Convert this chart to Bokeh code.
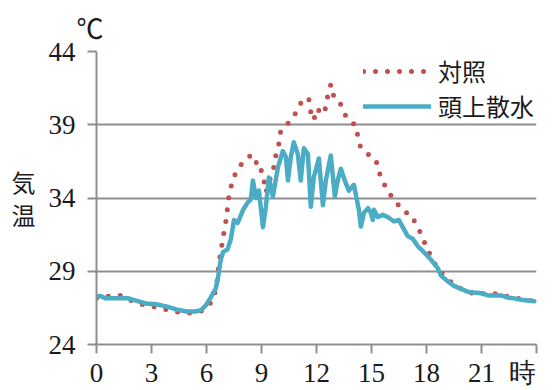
from bokeh.plotting import figure
from bokeh.models import Range1d, FixedTicker
from bokeh.embed import file_html
from bokeh.resources import INLINE

# ---- data ----
x_ticks = [0, 3, 6, 9, 12, 15, 18, 21, 24]
y_ticks = [24, 29, 34, 39, 44]

control_label = "対照"
control_hours = [0, 0.67, 1.33, 1.98, 2.58, 3.24, 3.89, 4.49, 5.14, 5.8, 6.35, 6.51, 6.62, 6.67,
                 6.78, 6.89, 7.0, 7.11, 7.16, 7.27, 7.44, 7.71, 8.09, 8.47, 8.64, 8.8, 8.96, 9.13,
                 9.24, 9.67, 9.78, 9.95, 10.05, 10.33, 10.66, 10.98, 11.25, 11.58, 11.69, 11.85,
                 12.02, 12.35, 12.51, 12.62, 12.78, 12.95, 13.22, 13.49, 13.65, 13.93, 14.2, 14.26,
                 14.42, 14.75, 15.24, 15.4, 15.62, 15.95, 16.38, 16.76, 17.15, 17.47, 17.75, 17.97,
                 18.29, 18.62, 19.06, 19.6, 20.2, 20.8, 21.45, 22.16, 22.77, 23.42, 23.9]
control_temp = [27.15, 27.3, 27.35, 26.95, 26.7, 26.55, 26.35, 26.2, 26.15, 26.3, 27.0, 27.8, 28.7, 29.5,
                30.3, 31.2, 32.0, 32.8, 33.65, 34.4, 35.3, 36.0, 36.6, 36.95, 36.8, 35.95, 36.0, 35.2,
                34.4, 36.1, 36.9, 37.7, 38.6, 38.9, 39.45, 40.0, 40.8, 40.75, 39.85, 39.3,
                40.1, 39.7, 40.2, 41.05, 41.75, 40.9, 40.65, 39.9, 39.45, 39.2, 38.85, 37.95,
                37.45, 37.05, 36.6, 35.8, 35.1, 34.35, 33.65, 33.05, 32.9, 32.1, 31.45, 30.7,
                29.9, 29.15, 28.55, 28.0, 27.6, 27.4, 27.55, 27.35, 27.2, 27.05, 26.95]

sprinkler_label = "頭上散水"
sprinkler_hours = [0, 0.25, 0.5, 1.75, 2.15, 2.7, 3.25, 3.8, 4.35, 4.9, 5.4, 5.7, 5.95, 6.2, 6.5, 6.62,
                   6.78, 6.9, 7.15, 7.33, 7.5, 7.7, 8.0, 8.25, 8.42, 8.53, 8.7, 8.86, 9.08, 9.24, 9.4,
                   9.62, 9.9, 10.16, 10.33, 10.44, 10.6, 10.76, 10.98, 11.14, 11.31, 11.53, 11.69,
                   11.85, 12.13, 12.35, 12.51, 12.78, 13.0, 13.16, 13.33, 13.54, 13.76, 14.04, 14.31,
                   14.42, 14.59, 14.81, 14.96, 15.07, 15.13, 15.35, 15.62, 15.95, 16.22, 16.49, 16.71,
                   16.98, 17.26, 17.53, 17.86, 18.24, 18.62, 18.79, 19.17, 19.5, 19.88, 20.26, 20.59,
                   20.97, 21.35, 22.06, 22.44, 22.77, 23.15, 23.53, 23.9]
sprinkler_temp = [27.3, 27.3, 27.15, 27.15, 27.0, 26.8, 26.75, 26.6, 26.4, 26.25, 26.25, 26.35, 26.65,
                  27.15, 27.8, 28.5, 29.8, 30.3, 30.5, 31.2, 32.5, 32.3, 33.2, 33.7, 33.9, 35.2, 34.0,
                  34.5, 32.0, 33.4, 35.4, 34.1, 36.1, 37.2, 36.8, 35.2, 36.8, 37.8, 37.0, 35.2, 37.4,
                  37.0, 33.4, 35.4, 36.7, 33.5, 35.2, 36.9, 34.1, 35.2, 36.0, 35.2, 34.5, 34.9, 33.2,
                  32.05, 33.0, 33.3, 33.0, 32.5, 33.2, 32.7, 32.85, 32.65, 32.4, 32.5, 32.0, 31.4,
                  31.2, 30.7, 30.3, 29.8, 29.2, 28.7, 28.3, 28.0, 27.8, 27.6, 27.55, 27.5, 27.35,
                  27.35, 27.2, 27.15, 27.05, 27.0, 26.95]

unit_text = "℃"
ylabel_text = "気\n温"
xunit_text = "時"

RED = "#c0504d"
BLUE = "#4bacc6"
GRID = "#8e8e8e"
INK = "#1a1a1a"
SERIF = "Liberation Serif"
JP = "Noto Sans CJK JP"

p = figure(width=556, height=390, output_backend="svg", toolbar_location=None,
           x_range=Range1d(0, 24), y_range=Range1d(24, 44),
           min_border_left=96, min_border_right=20, min_border_top=49, min_border_bottom=44)
p.outline_line_color = None
p.background_fill_color = "white"
p.border_fill_color = "white"

p.line(control_hours, control_temp, line_color=RED, line_width=5, line_dash="0 12",
       line_cap="round", legend_label=control_label)
p.line(sprinkler_hours, sprinkler_temp, line_color=BLUE, line_width=4.5, line_join="round",
       line_cap="round", legend_label=sprinkler_label)

# title used as the unit mark above the y axis
p.title.text = unit_text
p.title.align = "left"
p.title.offset = -20
p.title.standoff = 10
p.title.text_font = JP
p.title.text_font_size = "27px"
p.title.text_font_style = "normal"
p.title.text_color = INK

# axes
p.xaxis.ticker = FixedTicker(ticks=x_ticks)
p.xaxis.major_label_overrides = {24: xunit_text + "\u00a0" * 3}
p.yaxis.ticker = FixedTicker(ticks=y_ticks)
for ax in (p.xaxis[0], p.yaxis[0]):
    ax.axis_line_color = GRID
    ax.axis_line_width = 2
    ax.major_tick_line_color = GRID
    ax.major_tick_line_width = 2
    ax.major_tick_out = 9
    ax.major_tick_in = 0
    ax.minor_tick_line_color = None
    ax.major_label_text_font = SERIF
    ax.major_label_text_font_size = "27px"
    ax.major_label_text_color = INK
p.xaxis.major_label_standoff = 4
p.yaxis.major_label_standoff = 12

p.yaxis.axis_label = ylabel_text
p.yaxis.axis_label_orientation = "horizontal"
p.yaxis.axis_label_text_font = JP
p.yaxis.axis_label_text_font_size = "24px"
p.yaxis.axis_label_text_font_style = "normal"
p.yaxis.axis_label_text_color = INK
p.yaxis.axis_label_text_line_height = 0.92
p.yaxis.axis_label_standoff = 10

p.xgrid.visible = False
p.ygrid.grid_line_color = GRID
p.ygrid.grid_line_width = 2

# legend
lg = p.legend[0]
lg.location = (267, 221)
lg.glyph_width = 68
lg.glyph_height = 30
lg.label_height = 30
lg.spacing = 0
lg.padding = 0
lg.margin = 0
lg.label_standoff = 7
lg.border_line_alpha = 0
lg.background_fill_alpha = 0
lg.label_text_font = JP
lg.label_text_font_size = "24px"
lg.label_text_color = INK

open("out.html", "w").write(file_html(p, INLINE))
